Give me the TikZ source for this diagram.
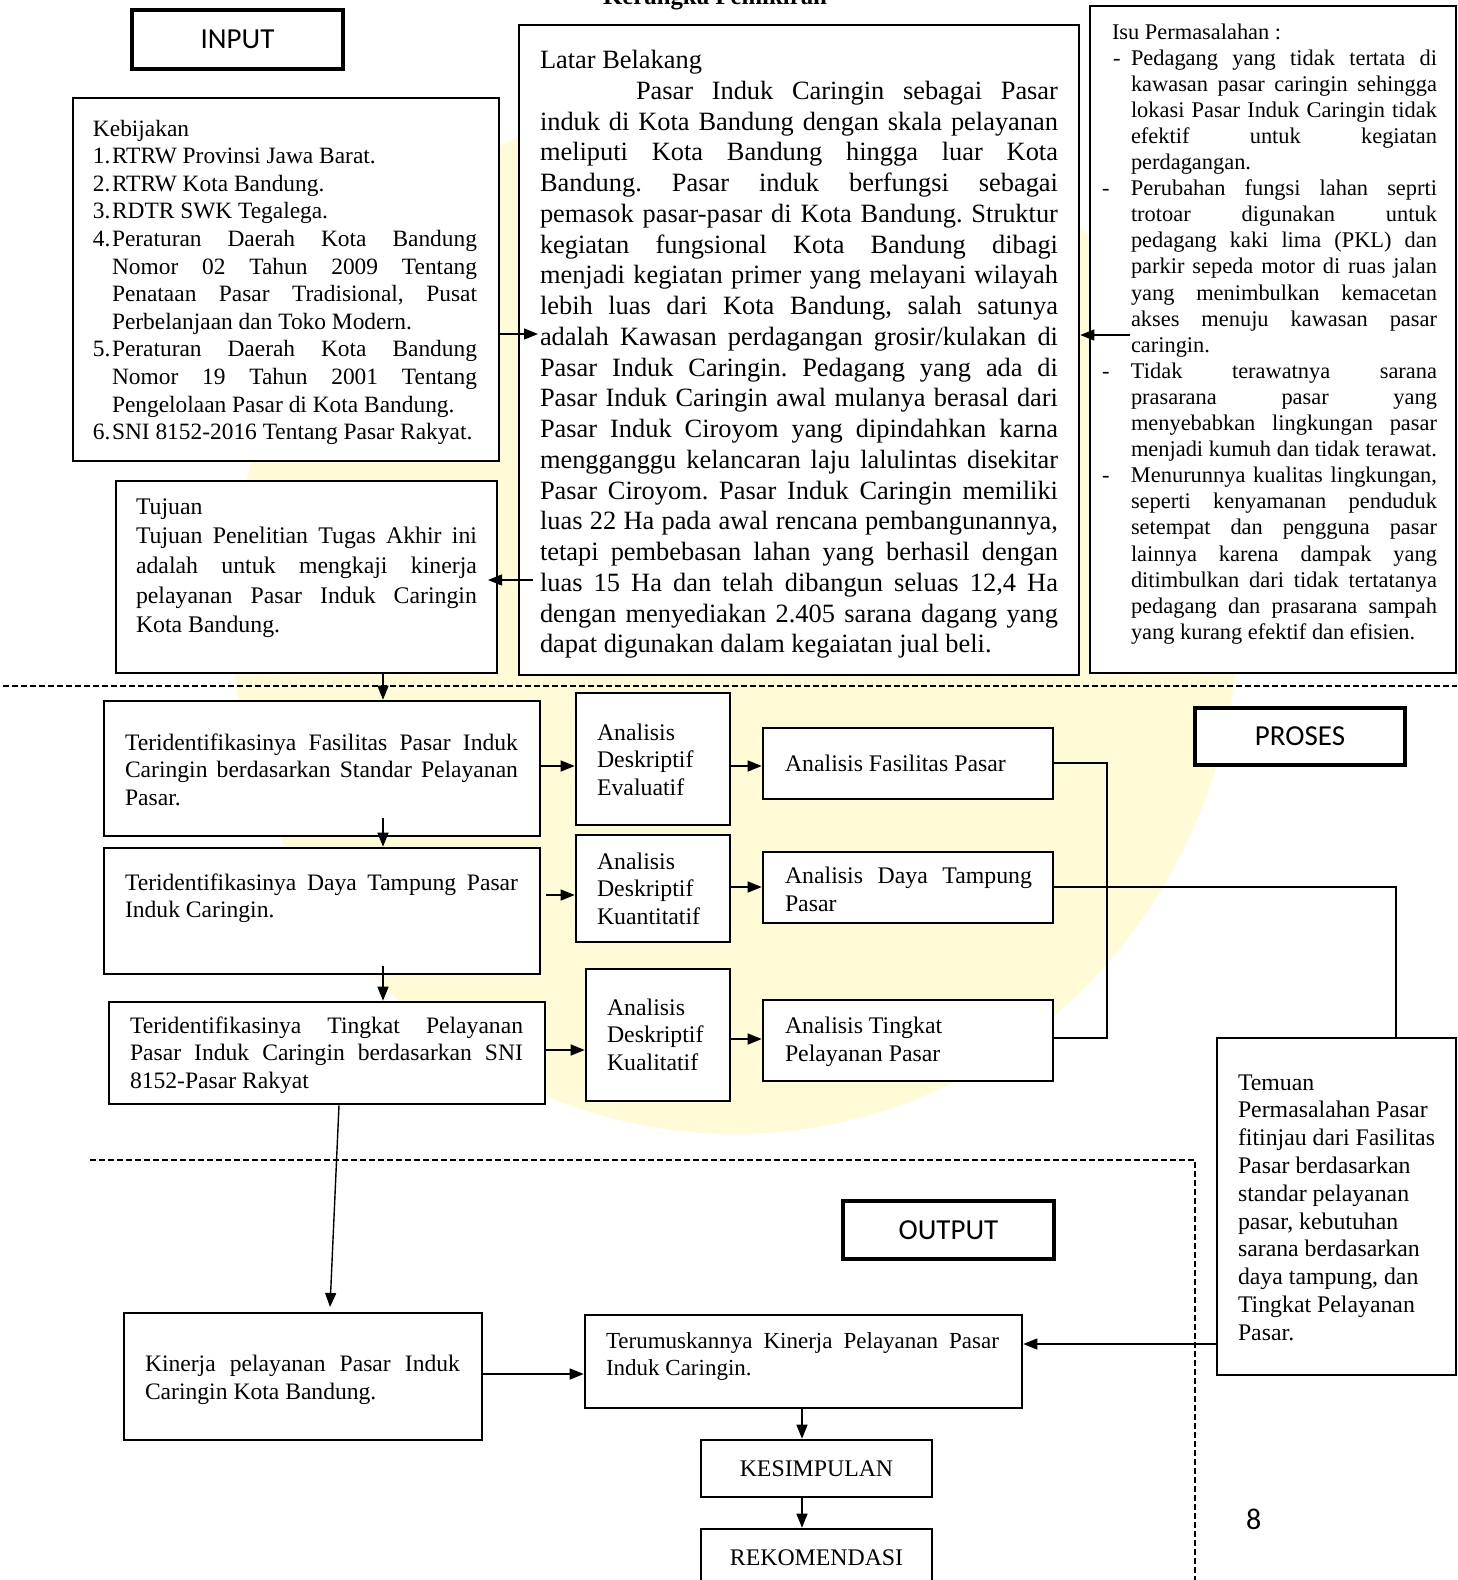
\documentclass[tikz,border=0pt]{standalone}
\usepackage{fontspec}
\setmainfont{Liberation Serif}
\newfontfamily\lblfont{Carlito}
\usetikzlibrary{arrows.meta,fit}
\frenchspacing
\newlength\blkw
\newcommand\J[1]{\hbox to \blkw{#1}}
\newcommand\Lf[1]{\hbox{#1}}
\newcommand\blk[2]{\vtop{\setlength\blkw{#1}#2}}
\newcommand\nb[1]{\llap{\hbox to 9.5pt{#1\hfil}}}
\newcommand\dsh[1]{\llap{\hbox to #1{-\hfil}}}
\newcommand\fs[2]{\fontsize{#1}{#2}\selectfont}
\definecolor{wmy}{RGB}{255,251,214}
\begin{document}
\begin{tikzpicture}[x=0.5pt,y=-0.5pt,
  bx/.style={draw, line width=1.3pt, fill=white, inner sep=0pt},
  lb/.style={draw, line width=1.9pt, fill=white, inner sep=0pt},
  tx/.style={anchor=base west, inner sep=0pt, outer sep=0pt},
  ar/.style={line width=0.7pt, -{Triangle[length=7pt,width=5.5pt]}},
  ln/.style={line width=0.7pt},
  dl/.style={line width=0.75pt, dash pattern=on 3pt off 1.5pt},
  lbl/.style={font=\lblfont\fs{14.5}{17}, inner sep=0pt}]
\useasboundingbox (0,0) rectangle (1457,1580);
% watermark
\fill[wmy] (735,610) ellipse [x radius=252pt, y radius=262pt];
% dashed separators
\coordinate (d1a) at (3,686); \coordinate (d1b) at (1457,686);
\draw[dl] (d1a) -- (d1b);
\coordinate (d2a) at (90,1160); \coordinate (d2b) at (1195,1160); \coordinate (d2c) at (1195,1585);
\draw[dl] (d2a) -- (d2b) -- (d2c);
% title
\node[font=\bfseries\fs{12.4}{14}, anchor=base, inner sep=0pt] (ttl) at (715,4) {Kerangka Pemikiran};
% label boxes
\node[lb, fit={(132,10)(343,69)}] (inp) {};
\node[lbl] (inpT) at (inp.center) {INPUT};
\node[lb, fit={(1195,708)(1405,765)}] (pro) {};
\node[lbl] (proT) at (pro.center) {PROSES};
\node[lb, fit={(843,1201)(1054,1259)}] (out) {};
\node[lbl] (outT) at (out.center) {OUTPUT};
% main boxes
\node[bx, fit={(73,98)(499,461)}] (keb) {};
\node[bx, fit={(519,25)(1079,675)}] (lat) {};
\node[bx, fit={(1090,6)(1456,673)}] (isu) {};
\node[bx, fit={(116,481)(497,673)}] (tuj) {};
\node[bx, fit={(104,701)(540,836)}] (f1) {};
\node[bx, fit={(104,848)(540,974)}] (f2) {};
\node[bx, fit={(109,1002)(545,1104)}] (f3) {};
\node[bx, fit={(576,693)(730,825)}] (a1) {};
\node[bx, fit={(576,835)(730,942)}] (a2) {};
\node[bx, fit={(586,969)(730,1101)}] (a3) {};
\node[bx, fit={(763,728)(1053,799)}] (b1) {};
\node[bx, fit={(763,852)(1053,923)}] (b2) {};
\node[bx, fit={(763,1000)(1053,1081)}] (b3) {};
\node[bx, fit={(1217,1038)(1456,1375)}] (tem) {};
\node[bx, fit={(124,1313)(482,1440)}] (kin) {};
\node[bx, fit={(585,1315)(1022,1408)}] (ter) {};
\node[bx, fit={(701,1440)(932,1497)}] (kes) {};
\node[bx, fit={(701,1529)(932,1600)}] (rek) {};
% texts
\node[tx, font=\fs{11.7}{13.8}] (kebT) at (112,136) {\blk{182.5pt}{%
\Lf{\hskip-9.5pt Kebijakan}
\Lf{\nb{1.}RTRW Provinsi Jawa Barat.}
\Lf{\nb{2.}RTRW Kota Bandung.}
\Lf{\nb{3.}RDTR SWK Tegalega.}
\J{\nb{4.}Peraturan Daerah Kota Bandung}
\J{Nomor 02 Tahun 2009 Tentang}
\J{Penataan Pasar Tradisional, Pusat}
\Lf{Perbelanjaan dan Toko Modern.}
\J{\nb{5.}Peraturan Daerah Kota Bandung}
\J{Nomor 19 Tahun 2001 Tentang}
\Lf{Pengelolaan Pasar di Kota Bandung.}
\Lf{\nb{6.}SNI 8152-2016 Tentang Pasar Rakyat.}}};
\node[tx, font=\fs{13.2}{15.38}] (latT) at (540,68.5) {\blk{259pt}{%
\Lf{Latar Belakang}
\J{\hskip48pt Pasar Induk Caringin sebagai Pasar}
\J{induk di Kota Bandung dengan skala pelayanan}
\J{meliputi Kota Bandung hingga luar Kota}
\J{Bandung. Pasar induk berfungsi sebagai}
\J{pemasok pasar-pasar di Kota Bandung. Struktur}
\J{kegiatan fungsional Kota Bandung dibagi}
\J{menjadi kegiatan primer yang melayani wilayah}
\J{lebih luas dari Kota Bandung, salah satunya}
\J{adalah Kawasan perdagangan grosir/kulakan di}
\J{Pasar Induk Caringin. Pedagang yang ada di}
\J{Pasar Induk Caringin awal mulanya berasal dari}
\J{Pasar Induk Ciroyom yang dipindahkan karna}
\J{mengganggu kelancaran laju lalulintas disekitar}
\J{Pasar Ciroyom. Pasar Induk Caringin memiliki}
\J{luas 22 Ha pada awal rencana pembangunannya,}
\J{tetapi pembebasan lahan yang berhasil dengan}
\J{luas 15 Ha dan telah dibangun seluas 12,4 Ha}
\J{dengan menyediakan 2.405 sarana dagang yang}
\Lf{dapat digunakan dalam kegaiatan jual beli.}}};
\node[tx, font=\fs{11.2}{13.05}] (isuT) at (1131,39) {\blk{153pt}{%
\Lf{\hskip-9.5pt Isu Permasalahan :}
\J{\dsh{9pt}Pedagang yang tidak tertata di}
\J{kawasan pasar caringin sehingga}
\J{lokasi Pasar Induk Caringin tidak}
\J{efektif untuk kegiatan}
\Lf{perdagangan.}
\J{\dsh{14.5pt}Perubahan fungsi lahan seprti}
\J{trotoar digunakan untuk}
\J{pedagang kaki lima (PKL) dan}
\J{parkir sepeda motor di ruas jalan}
\J{yang menimbulkan kemacetan}
\J{akses menuju kawasan pasar}
\Lf{caringin.}
\J{\dsh{14.5pt}Tidak terawatnya sarana}
\J{prasarana pasar yang}
\J{menyebabkan lingkungan pasar}
\J{menjadi kumuh dan tidak terawat.}
\J{\dsh{14.5pt}Menurunnya kualitas lingkungan,}
\J{seperti kenyamanan penduduk}
\J{setempat dan pengguna pasar}
\J{lainnya karena dampak yang}
\J{ditimbulkan dari tidak tertatanya}
\J{pedagang dan prasarana sampah}
\Lf{yang kurang efektif dan efisien.}}};
\node[tx, font=\fs{11.9}{14.85}] (tujT) at (136,514) {\blk{170.5pt}{%
\Lf{Tujuan}
\J{Tujuan Penelitian Tugas Akhir ini}
\J{adalah untuk mengkaji kinerja}
\J{pelayanan Pasar Induk Caringin}
\Lf{Kota Bandung.}}};
\node[tx, font=\fs{11.8}{13.75}] (f1T) at (125,750) {\blk{196.5pt}{%
\J{Teridentifikasinya Fasilitas Pasar Induk}
\J{Caringin berdasarkan Standar Pelayanan}
\Lf{Pasar.}}};
\node[tx, font=\fs{11.8}{13.75}] (f2T) at (125,890) {\blk{196.5pt}{%
\J{Teridentifikasinya Daya Tampung Pasar}
\Lf{Induk Caringin.}}};
\node[tx, font=\fs{11.8}{13.75}] (f3T) at (130,1033) {\blk{196.5pt}{%
\J{Teridentifikasinya Tingkat Pelayanan}
\J{Pasar Induk Caringin berdasarkan SNI}
\Lf{8152-Pasar Rakyat}}};
\node[tx, font=\fs{11.9}{13.75}] (a1T) at (597,740) {\blk{0pt}{\Lf{Analisis}\Lf{Deskriptif}\Lf{Evaluatif}}};
\node[tx, font=\fs{11.9}{13.75}] (a2T) at (597,869) {\blk{0pt}{\Lf{Analisis}\Lf{Deskriptif}\Lf{Kuantitatif}}};
\node[tx, font=\fs{11.9}{13.75}] (a3T) at (607,1015) {\blk{0pt}{\Lf{Analisis}\Lf{Deskriptif}\Lf{Kualitatif}}};
\node[tx, font=\fs{11.9}{14}] (b1T) at (785,771) {Analisis Fasilitas Pasar};
\node[tx, font=\fs{11.9}{14}] (b2T) at (785,883) {\blk{123.5pt}{\J{Analisis Daya Tampung}\Lf{Pasar}}};
\node[tx, font=\fs{11.9}{14.4}] (b3T) at (785,1033) {\blk{0pt}{\Lf{Analisis Tingkat}\Lf{Pelayanan Pasar}}};
\node[tx, font=\fs{11.9}{13.9}] (temT) at (1238,1090) {\blk{0pt}{%
\Lf{Temuan}
\Lf{Permasalahan Pasar}
\Lf{fitinjau dari Fasilitas}
\Lf{Pasar berdasarkan}
\Lf{standar pelayanan}
\Lf{pasar, kebutuhan}
\Lf{sarana berdasarkan}
\Lf{daya tampung, dan}
\Lf{Tingkat Pelayanan}
\Lf{Pasar.}}};
\node[tx, font=\fs{11.8}{14}] (kinT) at (145,1371) {\blk{157.5pt}{%
\J{Kinerja pelayanan Pasar Induk}
\Lf{Caringin Kota Bandung.}}};
\node[tx, font=\fs{11.5}{13.5}] (terT) at (606,1348) {\blk{196.5pt}{%
\J{Terumuskannya Kinerja Pelayanan Pasar}
\Lf{Induk Caringin.}}};
\node[font=\fs{11.9}{14}, inner sep=0pt] (kesT) at (kes.center) {KESIMPULAN};
\node[font=\fs{11.9}{14}, inner sep=0pt, anchor=base] (rekT) at (816.5,1565) {REKOMENDASI};
\node[font=\lblfont\fs{15}{17}, tx] (pg) at (1246,1529) {8};
% connectors
\coordinate (kebTip) at (538,334);
\draw[ar] (keb.east |- kebTip) -- (kebTip);
\coordinate (latS) at (533,580); \coordinate (tujTip) at (488,580);
\draw[ar] (latS) -- (tujTip);
\coordinate (isuS) at (1130,335);
\draw[ar] (isuS) -- (lat.east |- isuS);
\coordinate (cx) at (383,0);
\draw[ar] (tuj.south -| cx) -- (f1.north -| cx);
\coordinate (f1s) at (383,818);
\draw[ar] (f1s) -- (f2.north -| cx);
\coordinate (f2s) at (383,966);
\draw[ar] (f2s) -- (f3.north -| cx);
\coordinate (r1) at (0,766);
\draw[ar] (f1.east |- r1) -- (a1.west |- r1);
\coordinate (r2) at (546,895);
\draw[ar] (r2) -- (a2.west |- r2);
\coordinate (r3) at (0,1050);
\draw[ar] (f3.east |- r3) -- (a3.west |- r3);
\draw[ar] (a1.east |- r1) -- (b1.west |- r1);
\coordinate (r2b) at (0,887);
\draw[ar] (a2.east |- r2b) -- (b2.west |- r2b);
\coordinate (r3b) at (0,1039);
\draw[ar] (a3.east |- r3b) -- (b3.west |- r3b);
\coordinate (bus) at (1107,763); \coordinate (bus2) at (1107,1038);
\draw[ln] (b1.east |- bus) -- (bus) -- (bus2) -- (b3.east |- bus2);
\coordinate (tk) at (1396,887);
\draw[ln] (b2.east |- tk) -- (tk) -- (tem.north -| tk);
\coordinate (f3s) at (339,0); \coordinate (kinTip) at (330,1307);
\draw[ar] (f3.south -| f3s) -- (kinTip);
\coordinate (r4) at (0,1374);
\draw[ar] (kin.east |- r4) -- (ter.west |- r4);
\coordinate (r5) at (0,1344);
\draw[ar] (tem.west |- r5) -- (ter.east |- r5);
\coordinate (cx2) at (802,0);
\draw[ar] (ter.south -| cx2) -- (kes.north -| cx2);
\draw[ar] (kes.south -| cx2) -- (rek.north -| cx2);
\end{tikzpicture}
\end{document}
